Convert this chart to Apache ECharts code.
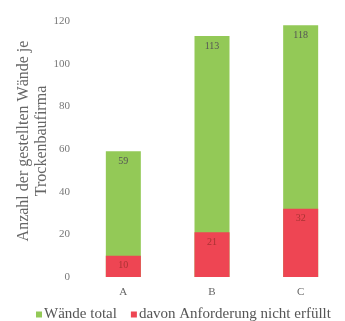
<!DOCTYPE html>
<html>
<head>
<meta charset="utf-8">
<script src="https://cdn.jsdelivr.net/npm/echarts@6/dist/echarts.min.js"></script>
<style>
html,body{margin:0;padding:0;background:#fff;}
#chart{width:345px;height:321px;}
</style>
</head>
<body>
<div id="chart"></div>
<script>
// Walls per drywall contractor: total vs. failing requirements
const categories = ['A', 'B', 'C'];
const totalWalls = [59, 113, 118];
const failedWalls = [10, 21, 32];
const yTicks = [0, 20, 40, 60, 80, 100, 120];
const yTitle = 'Anzahl der gestellten Wände je\nTrockenbaufirma';

const serif = '"Liberation Serif", "DejaVu Serif", serif';
const chart = echarts.init(document.getElementById('chart'), null, { renderer: 'canvas' });

chart.setOption({
  animation: false,
  textStyle: { fontFamily: serif },
  grid: { left: 79, right: 0, top: 21, bottom: 44 },
  legend: {
    top: 302,
    left: 31,
    itemWidth: 6,
    itemHeight: 6,
    itemGap: 14,
    icon: 'rect',
    textStyle: { fontFamily: serif, fontSize: 15, color: '#555', padding: [0, 0, 0, -3] },
    data: ['Wände total', 'davon Anforderung nicht erfüllt']
  },
  graphic: [{
    type: 'text',
    x: 33,
    y: 141,
    rotation: Math.PI / 2,
    style: {
      x: 0,
      y: 0,
      text: yTitle,
      font: '16px ' + serif,
      fill: '#666',
      lineHeight: 18,
      align: 'center',
      verticalAlign: 'middle'
    }
  }],
  xAxis: {
    type: 'category',
    data: categories,
    axisLine: { show: false },
    axisTick: { show: false },
    axisLabel: { fontFamily: serif, fontSize: 11, color: '#666', margin: 10 }
  },
  yAxis: {
    type: 'value',
    min: yTicks[0],
    max: yTicks[yTicks.length - 1],
    interval: 20,
    splitLine: { show: false },
    axisLine: { show: false },
    axisTick: { show: false },
    axisLabel: { fontFamily: serif, fontSize: 11, color: '#777', margin: 9 }
  },
  series: [
    {
      name: 'Wände total',
      type: 'bar',
      data: totalWalls,
      barWidth: 35,
      barGap: '-100%',
      itemStyle: { color: '#93c957' },
      label: {
        show: true, position: 'insideTop', distance: 5,
        fontFamily: serif, fontSize: 10, color: '#555'
      }
    },
    {
      name: 'davon Anforderung nicht erfüllt',
      type: 'bar',
      data: failedWalls,
      barWidth: 35,
      barGap: '-100%',
      itemStyle: { color: '#ee4553' },
      label: {
        show: true, position: 'insideTop', distance: 5,
        fontFamily: serif, fontSize: 10, color: '#a33'
      }
    }
  ]
});
</script>
</body>
</html>
